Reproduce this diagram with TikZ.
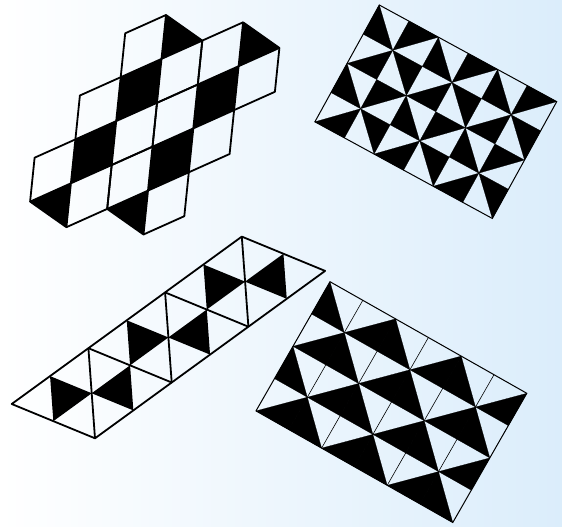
\documentclass[tikz,border=0pt]{standalone}
\usepackage{xcolor}
\usepackage{tikz}
\usetikzlibrary{calc}

\definecolor{nenxanh}{RGB}{219,237,251}

\begin{document}
\begin{tikzpicture}[x=1pt, y=-1pt,
    canhdam/.style={line width=1.8pt, line join=round},
    canhvien/.style={line width=1pt, line join=miter},
    canhmong/.style={line width=0.6pt},
    tamgiacden/.style={fill=black, draw=black, line width=0.2pt, line join=round}]

    % 0. Nền
    \shade[left color=white, right color=nenxanh]
        (0,0) rectangle (562,527);
    \useasboundingbox (0,0) rectangle (562,527);

    % 1. Hình lục giác (trên trái)
    \begin{scope}[shift={(166,15)}, x={(-40.8pt,-18.3pt)}, y={(36.3pt,-25.6pt)}]
        \foreach \cx/\cy in {1/1, 0/2, 3/2, 2/3, 5/3, 4/4} {
            \fill (\cx-1,\cy-1) -- (\cx-1,\cy) -- (\cx,\cy) -- cycle;
            \fill (\cx+1,\cy) -- (\cx,\cy) -- (\cx+1,\cy+1) -- cycle;
            \draw[canhdam]
                (\cx-1,\cy-1) -- (\cx-1,\cy) -- (\cx,\cy+1) --
                (\cx+1,\cy+1) -- (\cx+1,\cy) -- (\cx,\cy-1) -- cycle;
            \draw[canhdam] (\cx-1,\cy-1) -- (\cx+1,\cy+1);
            \draw[canhdam] (\cx-1,\cy) -- (\cx+1,\cy);
        }
    \end{scope}

    % 2. Hình chữ nhật chong chóng (trên phải)
    \begin{scope}[shift={(379.3,5)}, x={(29.57pt,-16.11pt)}, y={(-16.1pt,-29.2pt)}]
        \foreach \i in {0,...,5} {
            \foreach \j in {0,...,3} {
                \ifodd\j\relax
                    \ifodd\numexpr\i+\j\relax
                        \fill[tamgiacden] (\i+1,\j) -- (\i+1,\j+1) -- (\i,\j+1) -- cycle;
                    \else
                        \fill[tamgiacden] (\i,\j) -- (\i+1,\j) -- (\i+1,\j+1) -- cycle;
                    \fi
                \else
                    \ifodd\numexpr\i+\j\relax
                        \fill[tamgiacden] (\i,\j) -- (\i+1,\j) -- (\i,\j+1) -- cycle;
                    \else
                        \fill[tamgiacden] (\i,\j) -- (\i,\j+1) -- (\i+1,\j+1) -- cycle;
                    \fi
                \fi
            }
        }
        \draw[canhvien] (0,0) -- (6,0) -- (6,4) -- (0,4) -- cycle;
    \end{scope}

    % 3. Dải hình bình hành (dưới trái)
    \begin{scope}[shift={(11.7,404)}, x={(76.7pt,55.8pt)}, y={(6.6pt,-90.1pt)}]
        \foreach \k in {0,1,2}
            \fill (\k+0.5,0) -- (\k+1,0.5) -- (\k+0.5,0.5) -- cycle;
        \foreach \k in {1,2,3}
            \fill (\k+0.5,0.5) -- (\k+0.5,1) -- (\k,0.5) -- cycle;
        \draw[canhdam] (0,0) -- (3,0) -- (4,1) -- (1,1) -- cycle;
        \foreach \k in {1,2,3}
            \draw[canhdam] (\k,0) -- (\k,1);
        \foreach \k in {1,2}
            \draw[canhdam] (\k,0) -- (\k+1,1);
    \end{scope}

    % 4. Hình chữ nhật tam giác lớn (dưới phải)
    \begin{scope}[shift={(330,281.7)}, x={(32.8pt,-18.6pt)}, y={(-18.5pt,-32.3pt)}]
        \foreach \i in {0,...,5} {
            \foreach \j in {0,...,3} {
                \ifodd\numexpr\i+\j\relax
                    \fill[tamgiacden] (\i+1,\j) -- (\i+1,\j+1) -- (\i,\j+1) -- cycle;
                \else
                    \fill[tamgiacden] (\i,\j) -- (\i,\j+1) -- (\i+1,\j+1) -- cycle;
                \fi
            }
        }
        \foreach \i in {1,...,5}
            \draw[canhmong] (\i,0) -- (\i,4);
        \draw[canhvien] (0,0) -- (6,0) -- (6,4) -- (0,4) -- cycle;
    \end{scope}

\end{tikzpicture}
\end{document}
